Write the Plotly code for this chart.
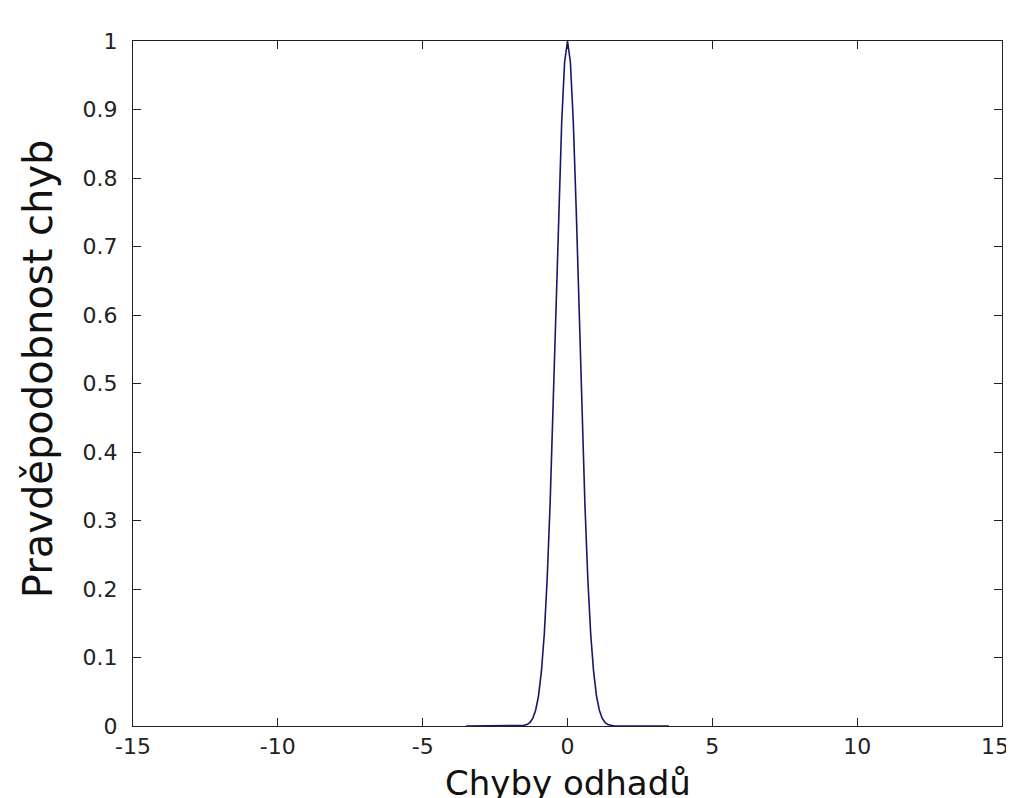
import plotly.graph_objects as go

# Error values (x) and probability values (y)
errors = [-3.5, -1.6, -1.5, -1.4, -1.3, -1.2, -1.1, -1.0, -0.9, -0.8, -0.7, -0.6, -0.5,
          -0.4, -0.3, -0.2, -0.1, 0.0, 0.1, 0.2, 0.3, 0.4, 0.5, 0.6, 0.7, 0.8, 0.9,
          1.0, 1.1, 1.2, 1.3, 1.4, 1.5, 1.6, 3.5]
probability = [0.0, 0.0003, 0.001, 0.002, 0.005, 0.011, 0.023, 0.044, 0.080, 0.135,
               0.216, 0.325, 0.458, 0.607, 0.755, 0.882, 0.969, 1.0, 0.969, 0.882,
               0.755, 0.607, 0.458, 0.325, 0.216, 0.135, 0.080, 0.044, 0.023, 0.011,
               0.005, 0.002, 0.001, 0.0003, 0.0]

x_ticks = [-15, -10, -5, 0, 5, 10, 15]
x_tick_labels = ["-15", "-10", "-5", "0", "5", "10", "15\u00a0\u00a0"]
y_ticks = [0, 0.1, 0.2, 0.3, 0.4, 0.5, 0.6, 0.7, 0.8, 0.9, 1]
y_tick_labels = ["0", "0.1", "0.2", "0.3", "0.4", "0.5", "0.6", "0.7", "0.8", "0.9", "1"]

fig = go.Figure()
fig.add_trace(go.Scatter(x=errors, y=probability, mode="lines",
                         line=dict(color="#16166a", width=1.6), showlegend=False))

font_family = "DejaVu Sans, Verdana, sans-serif"
axis_common = dict(showline=True, linecolor="#222222", linewidth=1.3, mirror="ticks",
                   ticks="inside", ticklen=8, tickcolor="#222222", tickwidth=1,
                   showgrid=False, zeroline=False, automargin=False,
                   ticklabeloverflow="allow",
                   tickfont=dict(family=font_family, size=22, color="#222222"))

fig.update_layout(
    width=1014, height=790,
    margin=dict(l=125, r=20, t=33, b=72),
    paper_bgcolor="white", plot_bgcolor="white",
    font=dict(family=font_family, color="#111111"),
    xaxis=dict(range=[-15, 15], tickvals=x_ticks, ticktext=x_tick_labels,
               **axis_common),
    yaxis=dict(range=[0, 1], tickvals=y_ticks, ticktext=y_tick_labels,
               ticklabelstandoff=10,
               **axis_common),
    annotations=[
        dict(text="Pravděpodobnost chyb", textangle=-90,
             xref="paper", yref="paper", x=-0.1093, y=0.521,
             xanchor="center", yanchor="middle", showarrow=False,
             font=dict(family=font_family, size=40, color="#111111")),
        dict(text="Chyby odhadů",
             xref="paper", yref="paper", x=0.5, y=-0.0839,
             xanchor="center", yanchor="middle", showarrow=False,
             font=dict(family=font_family, size=34, color="#111111")),
    ],
)

fig.write_html("out.html")
